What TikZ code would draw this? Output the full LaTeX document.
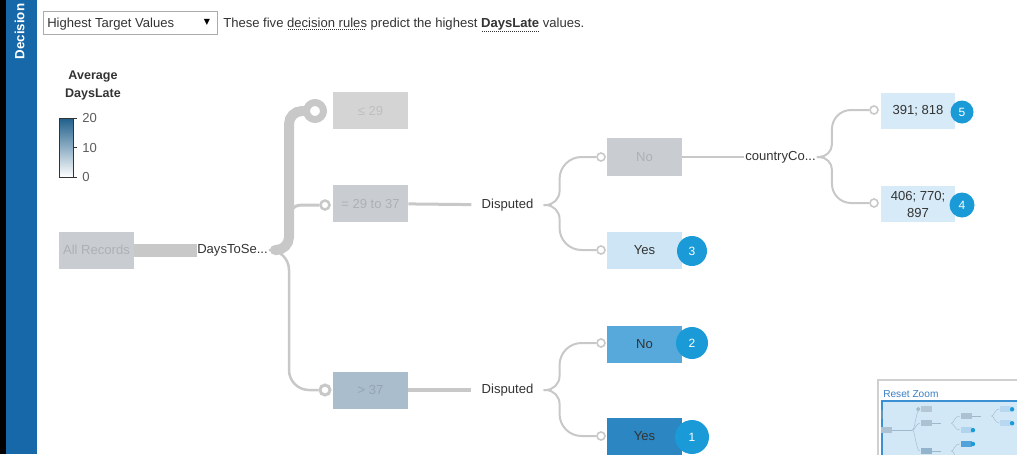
\documentclass[tikz,border=0pt]{standalone}
\usepackage{fontspec}
\setmainfont{Liberation Sans}
\newfontfamily\symfont{DejaVu Sans}
\newlength{\pxlen}
\setlength{\pxlen}{0.75pt}
\newcommand{\treefont}{\fontsize{9.8}{12.75}\selectfont}
\newcommand{\hdrfont}{\fontsize{9.8}{11}\selectfont}
\newcommand{\dotline}[1]{\setbox0=\hbox{#1}\vtop{\offinterlineskip\copy0\kern1.3pt\hbox to \wd0{\leaders\hbox to 1.5pt{\hss\vrule width 0.6pt height 0.6pt\hss}\hfill}}}
\definecolor{tabblue}{HTML}{1668A9}
\definecolor{boxline}{HTML}{ABABAB}
\definecolor{linkgray}{HTML}{C8C8C8}
\definecolor{allgray}{HTML}{C9CDD2}
\definecolor{legray}{HTML}{D4D4D4}
\definecolor{gtblue}{HTML}{A9BDCC}
\definecolor{yeslight}{HTML}{CDE5F4}
\definecolor{leaflight}{HTML}{D6EAF7}
\definecolor{nomid}{HTML}{57A8DB}
\definecolor{yesdark}{HTML}{2B86C2}
\definecolor{badgeblue}{HTML}{1A9BD8}
\definecolor{legdark}{HTML}{1F5F8B}
\definecolor{mutedtext}{HTML}{ADB1B6}
\definecolor{gttext}{HTML}{94A4B2}
\definecolor{darktext}{HTML}{333333}
\definecolor{mapblue}{HTML}{3A80C6}
\definecolor{panelblue}{HTML}{D3E8F6}
\definecolor{panelline}{HTML}{3A90D2}
\definecolor{mapgray}{HTML}{D0D0D0}
\tikzset{
  treebox/.style={minimum width=75\pxlen, minimum height=37\pxlen, inner sep=0pt, font=\treefont},
  greybox/.style={treebox, fill=allgray, text=mutedtext},
  label/.style={inner sep=0pt, font=\treefont, text=darktext},
  hdr/.style={inner sep=0pt, font=\hdrfont, text=darktext},
  link/.style={draw=linkgray},
  thinlink/.style={draw=linkgray, line width=2\pxlen},
  ring/.style={circle, draw=linkgray, fill=white, inner sep=0pt, minimum size=8\pxlen, line width=1.6\pxlen},
  badge/.style={circle, fill=badgeblue, text=white, inner sep=0pt, font=\fontsize{9}{10}\selectfont},
  minilink/.style={draw=linkgray!70!panelline, line width=0.3pt}
}
\begin{document}
\begin{tikzpicture}[x=0.75pt, y=-0.75pt]
  \path[use as bounding box, clip] (0,0) rectangle (1017,454);

  % side tab
  \fill[black] (0,0) rectangle (6,454);
  \fill[tabblue] (6,0) rectangle (37,454);
  \node[rotate=90, text=white, font=\bfseries\fontsize{10}{12}\selectfont] (tab) at (19.5,31.5) {Decision};

  % header line
  \node[draw=boxline, minimum width=174\pxlen, minimum height=23\pxlen, inner sep=0pt] (menu) at (130,22.5) {};
  \node[hdr, anchor=base west] (menutext) at (47,27) {Highest Target Values};
  \node[font=\symfont\fontsize{6}{7}\selectfont, inner sep=0pt] (menuarrow) at (207,22) {▼};
  \node[hdr, anchor=base west] (intro) at (223,27) {These five \dotline{decision rules} predict the highest \dotline{\textbf{DaysLate}} values.};

  % legend
  \node[align=center, font=\bfseries\fontsize{9.4}{13.5}\selectfont, text=darktext] (legtitle) at (93,85) {Average\\DaysLate};
  \shade[top color=legdark, bottom color=white, draw=darktext, line width=1\pxlen] (59,118) rectangle (73,177);
  \foreach \v/\y in {20/118,10/147.5,0/177}{
    \draw[darktext, line width=1\pxlen] (73,\y) -- (77,\y);
    \node[hdr, anchor=west, text=darktext!80] (tick\v) at (82,\y) {\v};
  }

  % tree nodes
  \node[greybox] (allrec) at (96.5,250) {All Records};
  \node[label, anchor=west] (days) at (197,250) {DaysToSe...};
  \coordinate (split) at (275,250);
  \node[greybox, fill=legray, text=legray!70!black!60] (le29) at (370.5,110.5) {≤ 29};
  \node[greybox] (mid) at (370.5,203.5) {= 29 to 37};
  \node[greybox, fill=gtblue, text=gttext] (gt37) at (370.5,390) {> 37};
  \node[label, inner xsep=10\pxlen] (disp1) at (507.5,205) {Disputed};
  \node[label, inner xsep=10\pxlen] (disp2) at (507.5,390) {Disputed};
  \node[greybox, minimum height=38\pxlen] (no1) at (644.5,157) {No};
  \node[treebox, fill=yeslight, text=darktext] (yes1) at (644.5,250) {Yes};
  \node[label, anchor=west, inner xsep=1\pxlen] (ccode) at (744,157) {countryCo...};
  \node[treebox, fill=leaflight, text=darktext, minimum width=74\pxlen, minimum height=36\pxlen] (leaf5) at (918,110.5) {391; 818};
  \node[treebox, fill=leaflight, text=darktext, minimum width=74\pxlen, minimum height=36\pxlen, align=center] (leaf4) at (918,204) {406; 770;\\897};
  \node[treebox, fill=nomid, text=darktext] (no2) at (644.5,344) {No};
  \node[treebox, fill=yesdark, text=darktext] (yes2) at (644.5,436.5) {Yes};

  % rings
  \node[ring, minimum size=17\pxlen, line width=7\pxlen] (ring0) at (315,111) {};
  \node[ring, minimum size=9\pxlen, line width=2.5\pxlen] (ring1) at (325,205) {};
  \node[ring, minimum size=10\pxlen, line width=3\pxlen] (ring2) at (325,390) {};
  \node[ring] (rno1) at (601,157) {};
  \node[ring] (ryes1) at (601,250) {};
  \node[ring] (rno2) at (601,343) {};
  \node[ring] (ryes2) at (601,436) {};
  \node[ring] (rleaf5) at (874,110) {};
  \node[ring] (rleaf4) at (874,203) {};

  % links
  \draw[link, line width=13\pxlen] (allrec.east) -- (days.west);
  \draw[link, line width=10\pxlen, line cap=round, rounded corners=13\pxlen] (split) -- ++(14,0) |- (ring0.west);
  \draw[link, line width=3\pxlen, rounded corners=12\pxlen] (split) -- ++(14,0) |- (ring1.west);
  \draw[link, line width=2.5\pxlen, rounded corners=20\pxlen] (split) -- ++(14,0) |- (ring2.west);
  \draw[link, line width=3\pxlen] (mid) -- (disp1);
  \draw[link, line width=4\pxlen] (gt37) -- (disp2);
  \draw[thinlink] (no1) -- (ccode);
  \draw[thinlink] (disp1.east) [rounded corners=14\pxlen] -- ++(16,0) [rounded corners=22\pxlen] |- (rno1.west);
  \draw[thinlink] (disp1.east) [rounded corners=14\pxlen] -- ++(16,0) [rounded corners=22\pxlen] |- (ryes1.west);
  \draw[thinlink] (disp2.east) [rounded corners=14\pxlen] -- ++(16,0) [rounded corners=22\pxlen] |- (rno2.west);
  \draw[thinlink] (disp2.east) [rounded corners=14\pxlen] -- ++(16,0) [rounded corners=22\pxlen] |- (ryes2.west);
  \draw[thinlink] (ccode.east) [rounded corners=13\pxlen] -- ++(15,0) [rounded corners=19\pxlen] |- (rleaf5.west);
  \draw[thinlink] (ccode.east) [rounded corners=13\pxlen] -- ++(15,0) [rounded corners=19\pxlen] |- (rleaf4.west);

  % badges
  \node[badge, minimum size=30\pxlen] (badge3) at (692,251) {3};
  \node[badge, minimum size=23\pxlen] (badge5) at (962,112) {5};
  \node[badge, minimum size=25\pxlen] (badge4) at (962,205) {4};
  \node[badge, minimum size=32\pxlen] (badge2) at (692,343) {2};
  \node[badge, minimum size=34\pxlen] (badge1) at (692,437) {1};

  % overview map
  \draw[mapgray, fill=white, line width=2\pxlen] (878,380) rectangle (1030,470);
  \node[anchor=west, inner sep=0pt, text=mapblue, font=\fontsize{7.6}{9}\selectfont] (reset) at (883,394) {Reset Zoom};
  \draw[panelline, fill=panelblue, line width=1.5\pxlen] (882,401) rectangle (1030,470);
  \begin{scope}[shift={(872.6,392.5)}, xscale=0.145, yscale=0.15]
    \fill[legdark!60!panelblue] (59,118) rectangle (73,177);
    \draw[minilink] (134,250) -- (275,250) (408,204) -- (470,204) (408,390) -- (470,390) (682,157) -- (745,157);
    \foreach \yt in {111,205,390}
      \draw[minilink] (275,250) .. controls +(17,0) and +(-25,0) .. (325,\yt);
    \foreach \ys/\yt in {205/157,205/250,390/343,390/436}
      \draw[minilink] (543,\ys) .. controls +(20,0) and +(-40,0) .. (601,\yt);
    \foreach \yt in {110,203}
      \draw[minilink] (820,157) .. controls +(20,0) and +(-35,0) .. (874,\yt);
    \draw[linkgray!70!panelline, line width=0.8pt] (315,111) circle (10);
    \foreach \cx/\cy/\col in {96.5/250/allgray, 370.5/110.5/legray, 370.5/203.5/allgray, 370.5/390/gtblue, 644.5/157/allgray, 644.5/250/yeslight, 918/110.5/leaflight, 918/204/leaflight, 644.5/344/nomid, 644.5/436.5/yesdark}
      \fill[\col!80!panelline] (\cx-37.5,\cy-18.5) rectangle (\cx+37.5,\cy+18.5);
    \foreach \bx/\by in {692/251, 962/112, 962/205, 692/343, 692/437}
      \fill[badgeblue] (\bx,\by) circle (15);
  \end{scope}
\end{tikzpicture}
\end{document}
